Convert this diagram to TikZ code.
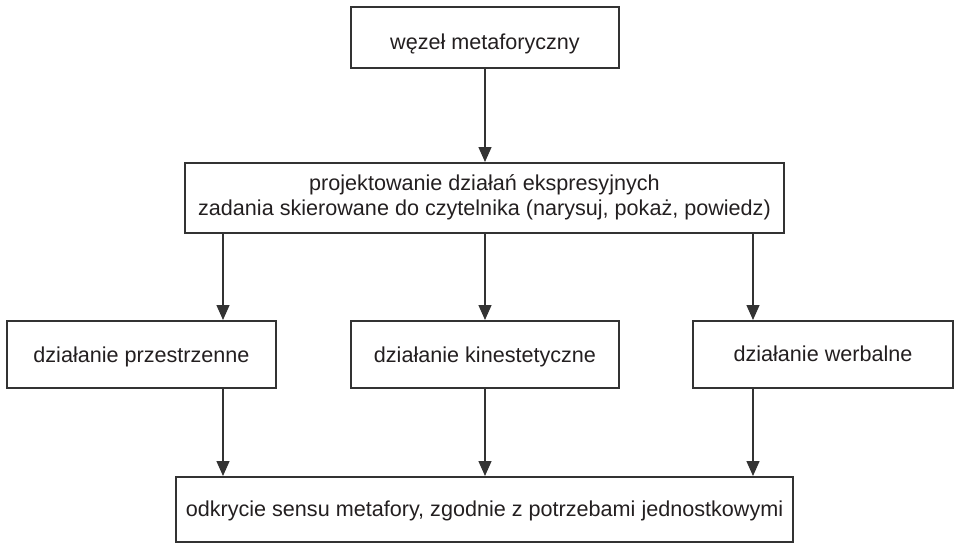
\documentclass[tikz,border=0pt]{standalone}
\usepackage{fontspec}
\setmainfont{Liberation Sans}
\usetikzlibrary{arrows.meta}
\definecolor{ink}{HTML}{231F20}
\definecolor{lin}{HTML}{333333}
\tikzset{
  box/.style={draw=lin, line width=1.4pt, rectangle, inner sep=0pt, text=ink, align=center,
    font=\fontsize{21.6}{25}\selectfont},
  one/.style={text height=16pt, text depth=2pt},
  arr/.style={draw=lin, line width=1.4pt, -{Triangle[length=15pt,width=13pt]}, shorten >=0.3pt}
}
\begin{document}
\begin{tikzpicture}[x=1pt,y=-1pt]
\useasboundingbox (0,0) rectangle (954,544);
\node[box, text height=24pt, text depth=0pt, minimum width=268pt, minimum height=61pt] (top) at (485,37.5) {węzeł metaforyczny};
\node[box, minimum width=599pt, minimum height=70pt] (mid) at (484.5,198) {\raisebox{-3.5pt}{\begin{tabular}{@{}c@{}}projektowanie działań ekspresyjnych\\zadania skierowane do czytelnika (narysuj, pokaż, powiedz)\end{tabular}}};
\node[box, one, text height=17pt, minimum width=269pt, minimum height=67pt] (L) at (141.5,354.5) {działanie przestrzenne};
\node[box, one, text height=17pt, minimum width=268pt, minimum height=67pt] (M) at (485,354.5) {działanie kinestetyczne};
\node[box, one, minimum width=260pt, minimum height=67pt] (R) at (823,354.5) {działanie werbalne};
\node[box, one, minimum width=617pt, minimum height=65pt] (bot) at (484.5,509.5) {odkrycie sensu metafory, zgodnie z potrzebami jednostkowymi};
\coordinate (xl) at (223,0);
\coordinate (xm) at (485,0);
\coordinate (xr) at (753,0);
\draw[arr] (top.south) -- (mid.north -| top.south);
\draw[arr] (mid.south -| xl) -- (L.north -| xl);
\draw[arr] (mid.south -| xm) -- (M.north -| xm);
\draw[arr] (mid.south -| xr) -- (R.north -| xr);
\draw[arr] (L.south -| xl) -- (bot.north -| xl);
\draw[arr] (M.south -| xm) -- (bot.north -| xm);
\draw[arr] (R.south -| xr) -- (bot.north -| xr);
\end{tikzpicture}
\end{document}
